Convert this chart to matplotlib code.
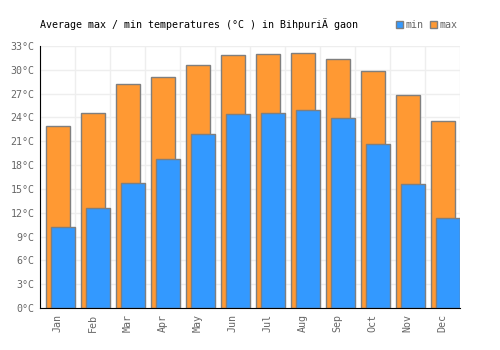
import matplotlib
matplotlib.use("Agg")
import matplotlib.pyplot as plt
import numpy as np
from matplotlib.patches import Patch

months = ["Jan", "Feb", "Mar", "Apr", "May", "Jun", "Jul", "Aug", "Sep", "Oct", "Nov", "Dec"]
t_max = [22.9, 24.5, 28.2, 29.1, 30.6, 31.9, 32.0, 32.1, 31.3, 29.9, 26.8, 23.5]
t_min = [10.2, 12.6, 15.7, 18.8, 21.9, 24.4, 24.5, 24.9, 23.9, 20.7, 15.6, 11.3]
yticks = [0, 3, 6, 9, 12, 15, 18, 21, 24, 27, 30, 33]
title = "Average max / min temperatures (°C ) in BihpuriÄ gaon"

FONT = "DejaVu Sans Mono"
FS = 7.2
blue = "#3399ff"
orange = "#ff9933"
edge = "#7f7f7f"
grid = "#eeeeee"
tick_c = "#666666"

fig = plt.figure(figsize=(5, 3.5), dpi=100)
ax = fig.add_axes([0.08, 0.12, 0.84, 0.7486])

x = np.arange(len(months))
ax.bar(x + 0.005, t_max, width=0.69, color=orange, edgecolor=edge, linewidth=1, zorder=3)
ax.bar(x + 0.155, t_min, width=0.69, color=blue, edgecolor=edge, linewidth=1, zorder=4)

ax.set_xlim(-0.5, 11.5)
ax.set_ylim(0, 33)
ax.set_yticks(yticks)
ax.set_yticklabels([f"{v}°C" for v in yticks], family=FONT, fontsize=FS, color=tick_c)
ax.set_xticks(x)
ax.set_xticklabels(months, rotation=90, family=FONT, fontsize=FS, color=tick_c)
ax.tick_params(axis="both", length=0, pad=4)

for b in np.arange(-0.5, 12.0, 1.0):
    ax.axvline(b, color=grid, linewidth=1, zorder=1)
for v in yticks:
    ax.axhline(v, color=grid, linewidth=1, zorder=1)

for s in ["top", "right"]:
    ax.spines[s].set_visible(False)
ax.spines["left"].set_color("black")
ax.spines["bottom"].set_color("black")
ax.spines["left"].set_zorder(5)
ax.spines["bottom"].set_zorder(5)

fig.text(0.08, 0.93, title, family=FONT, fontsize=FS, color="black", va="center", ha="left")

handles = [Patch(facecolor=blue, edgecolor=edge, label="min"),
           Patch(facecolor=orange, edgecolor=edge, label="max")]
leg = fig.legend(handles=handles, loc="center left", bbox_to_anchor=(0.782, 0.93), ncol=2,
                 frameon=False, handlelength=0.7, handleheight=0.7, handletextpad=0.25,
                 columnspacing=0.6, borderpad=0, prop={"family": FONT, "size": FS})
for t in leg.get_texts():
    t.set_color(tick_c)

fig.savefig("out.png", dpi=100)
